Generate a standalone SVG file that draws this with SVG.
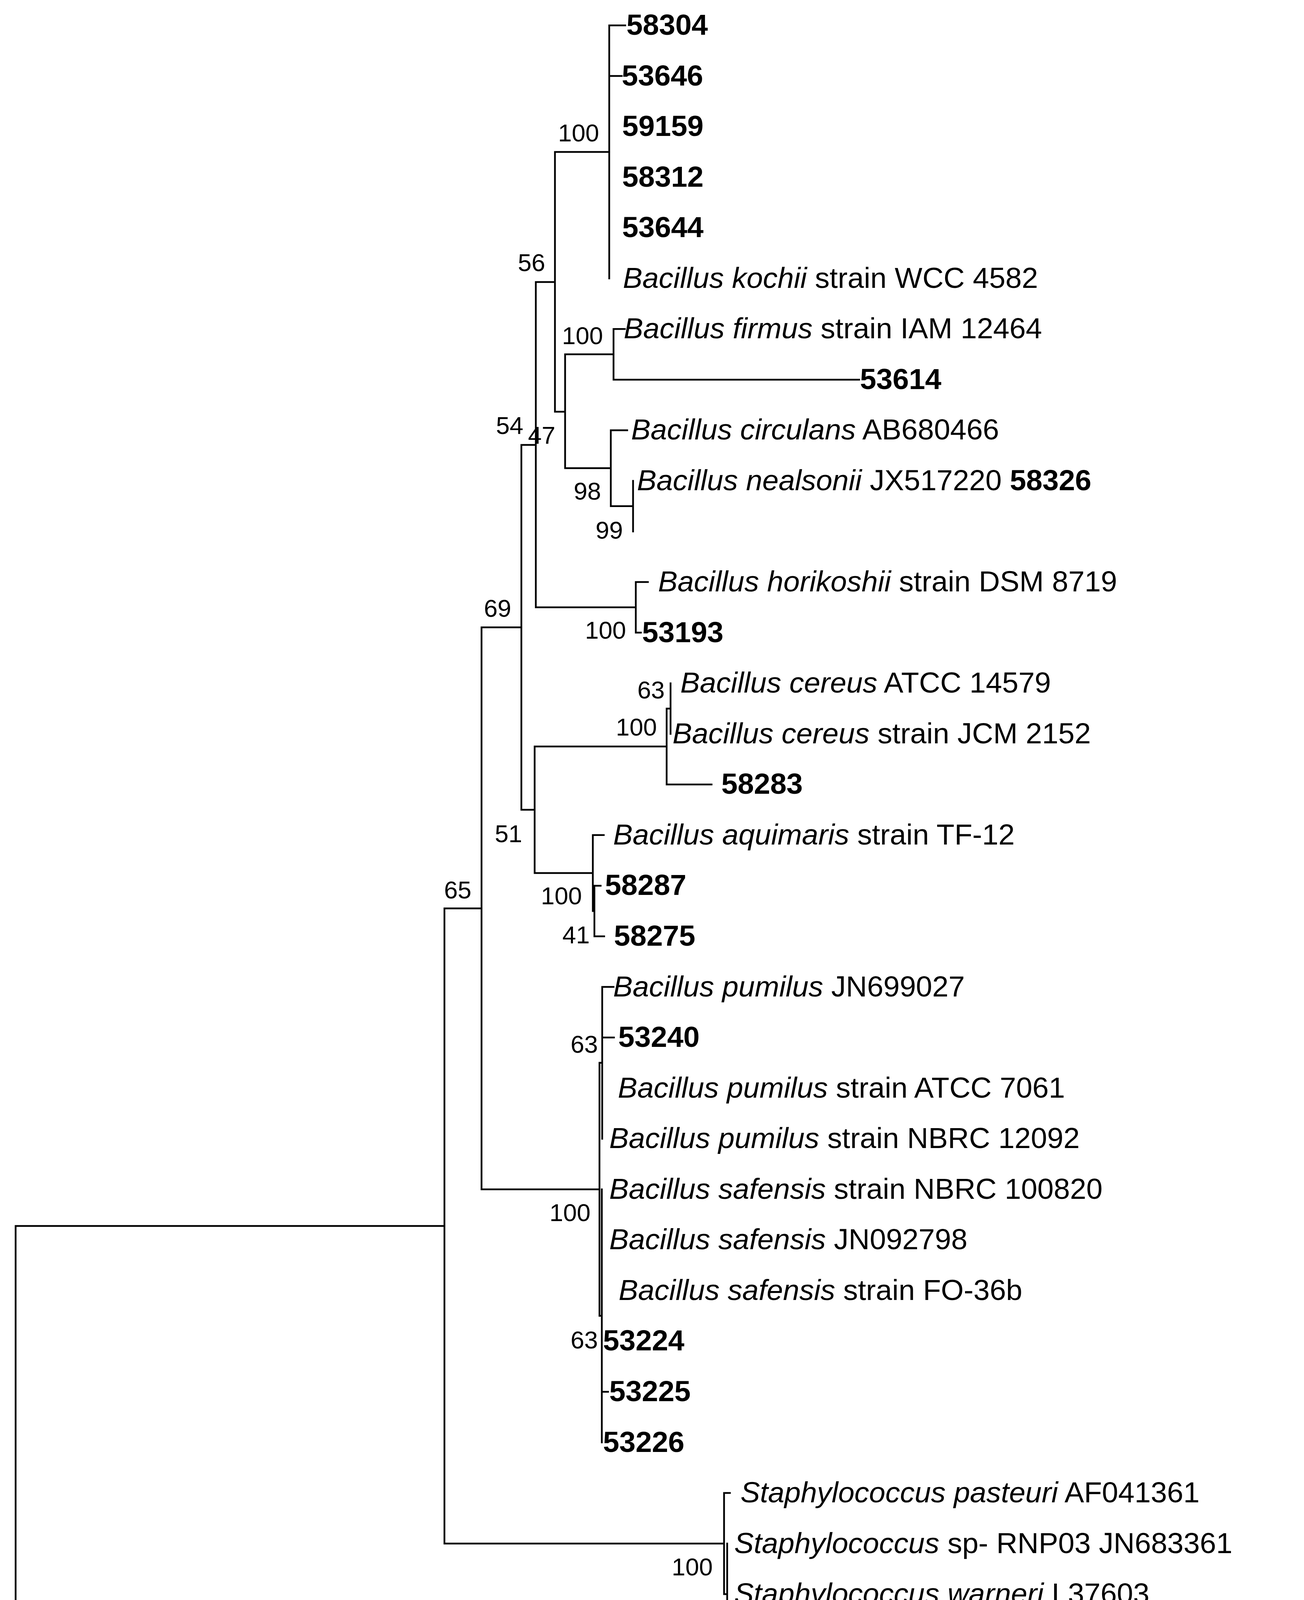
<svg xmlns="http://www.w3.org/2000/svg" width="3339" height="4766" viewBox="0 0 3339 4766">
<style>
.br{fill:none;stroke:#000;stroke-width:4.5;stroke-linecap:square}
.t{font-family:"Liberation Sans",Arial,sans-serif;font-size:75px;fill:#000}
.b{font-weight:bold}
.i{font-style:italic}
.bs{font-family:"Liberation Sans",Arial,sans-serif;font-size:63px;fill:#000;text-anchor:end}
.sc{font-family:"Liberation Sans",Arial,sans-serif;font-size:64px;fill:#000;text-anchor:middle}
.cap{font-family:"Liberation Serif","Times New Roman",serif;font-size:72px;fill:#000;text-anchor:middle}
</style>
<rect width="3339" height="4766" fill="#fff"/>
<g id="connectors">
<path class="br" d="M40 3138.5V4340.2M40 3138.5H1138M40 4340.2H2196
M1138 2325.4V3951.6M1138 2325.4H1233M1138 3951.6H1854
M1233 1606V3044.7M1233 1606H1335M1233 3044.7H1535
M1335 1139V2073M1335 1139H1372M1335 2073H1369
M1372 722V1554.8M1372 722H1421M1372 1554.8H1628
M1421 389V1054M1421 389H1560M1421 1054H1447
M1560 65V712.8M1560 65H1601M1560 194.5H1592
M1447 907V1198.6M1447 907H1571M1447 1198.6H1564
M1571 842.3V971.9M1571 842.3H1600M1571 971.9H2200
M1564 1101.4V1295.8M1564 1101.4H1606M1564 1295.8H1621
M1621 1231V1360.5
M1628 1490V1619.6M1628 1490H1659M1628 1619.6H1641
M1369 1911V2235M1369 1911H1707M1369 2235H1518
M1707 1814V2008.3M1707 1814H1717M1707 2008.3H1822
M1717 1749.2V1878.7
M1518 2137.8V2332.2M1518 2137.8H1546M1518 2332.2H1522
M1522 2267.4V2396.9M1522 2267.4H1538M1522 2396.9H1547
M1535 2720.8V3368.6M1535 2720.8H1542M1535 3368.6H1541
M1542 2526.5V2915.2M1542 2526.5H1571M1542 2656H1572
M1541 3044.7V3692.5M1541 3562.9H1557
M1854 3822V4081.1M1854 3822H1869M1854 4081.1H1862
M1862 3951.6V4210.7"/>
</g>
<g id="scale-bar">
<path class="br" d="M310 4525H1074M310 4501V4552M1074 4501V4552"/>
<text class="sc" x="692" y="4614">0.05</text>
</g>
<g id="tip-58304"><text class="t b" x="1604" y="89">58304</text></g>
<g id="tip-53646"><text class="t b" x="1592" y="218.5">53646</text></g>
<g id="tip-59159"><text class="t b" x="1593" y="348">59159</text></g>
<g id="tip-58312"><text class="t b" x="1593" y="477.6">58312</text></g>
<g id="tip-53644"><text class="t b" x="1593" y="607">53644</text></g>
<g id="tip-kochii"><text class="t" x="1595" y="736.8"><tspan class="i">Bacillus kochii</tspan> strain WCC 4582</text></g>
<g id="tip-firmus"><text class="t" x="1597" y="866.3"><tspan class="i">Bacillus firmus</tspan> strain IAM 12464</text></g>
<g id="tip-53614"><text class="t b" x="2202" y="996">53614</text></g>
<g id="tip-circulans"><text class="t" x="1616" y="1125.4"><tspan class="i">Bacillus circulans</tspan> AB680466</text></g>
<g id="tip-nealsonii"><text class="t" x="1631" y="1255"><tspan class="i">Bacillus nealsonii</tspan> JX517220 <tspan class="b">58326</tspan></text></g>
<g id="tip-horikoshii"><text class="t" x="1685" y="1514"><tspan class="i">Bacillus horikoshii</tspan> strain DSM 8719</text></g>
<g id="tip-53193"><text class="t b" x="1644" y="1643.6">53193</text></g>
<g id="tip-cereus-atcc"><text class="t" x="1742" y="1773"><tspan class="i">Bacillus cereus</tspan> ATCC 14579</text></g>
<g id="tip-cereus-jcm"><text class="t" x="1722" y="1902.7"><tspan class="i">Bacillus cereus</tspan> strain JCM 2152</text></g>
<g id="tip-58283"><text class="t b" x="1847" y="2032.3">58283</text></g>
<g id="tip-aquimaris"><text class="t" x="1570" y="2161.8"><tspan class="i">Bacillus aquimaris</tspan> strain TF-12</text></g>
<g id="tip-58287"><text class="t b" x="1549" y="2291.4">58287</text></g>
<g id="tip-58275"><text class="t b" x="1572" y="2421">58275</text></g>
<g id="tip-pumilus-jn"><text class="t" x="1570" y="2550.5"><tspan class="i">Bacillus pumilus</tspan> JN699027</text></g>
<g id="tip-53240"><text class="t b" x="1583" y="2680">53240</text></g>
<g id="tip-pumilus-atcc"><text class="t" x="1582" y="2809.6"><tspan class="i">Bacillus pumilus</tspan> strain ATCC 7061</text></g>
<g id="tip-pumilus-nbrc"><text class="t" x="1560" y="2939.2"><tspan class="i">Bacillus pumilus</tspan> strain NBRC 12092</text></g>
<g id="tip-safensis-nbrc"><text class="t" x="1560" y="3068.7"><tspan class="i">Bacillus safensis</tspan> strain NBRC 100820</text></g>
<g id="tip-safensis-jn"><text class="t" x="1560" y="3198.3"><tspan class="i">Bacillus safensis</tspan> JN092798</text></g>
<g id="tip-safensis-fo"><text class="t" x="1584" y="3327.8"><tspan class="i">Bacillus safensis</tspan> strain FO-36b</text></g>
<g id="tip-53224"><text class="t b" x="1544" y="3457.4">53224</text></g>
<g id="tip-53225"><text class="t b" x="1560" y="3586.9">53225</text></g>
<g id="tip-53226"><text class="t b" x="1544" y="3716.5">53226</text></g>
<g id="tip-pasteuri"><text class="t" x="1896" y="3846"><tspan class="i">Staphylococcus pasteuri</tspan> AF041361</text></g>
<g id="tip-staph-sp"><text class="t" x="1880" y="3975.6"><tspan class="i">Staphylococcus</tspan> sp- RNP03 JN683361</text></g>
<g id="tip-warneri"><text class="t" x="1880" y="4105.1"><tspan class="i">Staphylococcus warneri</tspan> L37603</text></g>
<g id="tip-58321"><text class="t b" x="1867" y="4234.7">58321</text></g>
<g id="tip-actinomyces"><text class="t" x="2196" y="4364.2"><tspan class="i">Actinomyces europaeus</tspan> Y08828</text></g>
<g id="bootstrap">
<text class="bs" x="1534" y="362">100</text>
<text class="bs" x="1396" y="694">56</text>
<text class="bs" x="1544" y="881">100</text>
<text class="bs" x="1340" y="1111">54</text>
<text class="bs" x="1422" y="1136">47</text>
<text class="bs" x="1539" y="1279">98</text>
<text class="bs" x="1595" y="1379">99</text>
<text class="bs" x="1309" y="1579">69</text>
<text class="bs" x="1603" y="1635">100</text>
<text class="bs" x="1702" y="1788">63</text>
<text class="bs" x="1682" y="1883">100</text>
<text class="bs" x="1337" y="2156">51</text>
<text class="bs" x="1207" y="2300">65</text>
<text class="bs" x="1490" y="2315">100</text>
<text class="bs" x="1510" y="2415">41</text>
<text class="bs" x="1531" y="2695">63</text>
<text class="bs" x="1512" y="3126">100</text>
<text class="bs" x="1531" y="3452">63</text>
<text class="bs" x="1825" y="4033">100</text>
<text class="bs" x="1846" y="4162">71</text>
</g>
<g id="caption"><text class="cap" x="1681" y="4722">(<tspan font-weight="bold">b</tspan>)</text></g>
</svg>
